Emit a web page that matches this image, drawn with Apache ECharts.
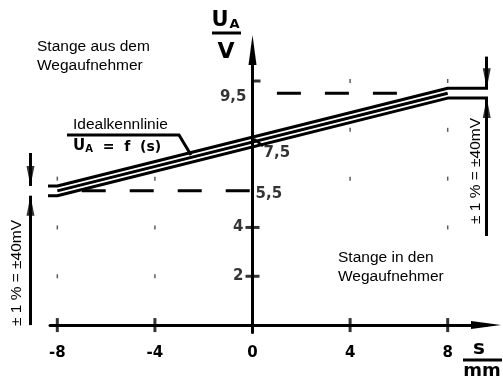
<!DOCTYPE html>
<html>
<head>
<meta charset="utf-8">
<script src="https://cdn.jsdelivr.net/npm/echarts@6.0.0/dist/echarts.min.js"></script>
<style>html,body{margin:0;padding:0;background:#fff}#kennlinie{width:503px;height:379px}</style>
</head>
<body>
<div id="kennlinie"></div>
<script>
var chart = echarts.init(document.getElementById('kennlinie'));

var fett = 'DejaVu Sans';
var duenn = 'Liberation Sans';

// Achsen
var xTickValues = [-8, -4, 0, 4, 8];
var yTickValues = [2, 4];
var yTopTick = [10];
var yLabelsLeft = [2, 4, 9.5];
var yLabelsRight = [5.5, 7.5];

// Rasterpunkte
var rasterS = [-8, -8, -8, -4, -4, -4, 4, 4, 4, 8, 8, 8, 8];
var rasterU = [2, 4, 6, 2, 4, 6, 6, 8, 10, 4, 6, 8, 10];

// Kennlinie mit Toleranzband
var bandS = [-9.5, -8, 8, 10];
var bandOben = [5.7, 5.7, 9.7, 9.7];
var bandUnten = [5.3, 5.3, 9.3, 9.3];
var idealS = [-8, 8];
var idealU = [5.5, 9.5];

// gestrichelte Hilfslinien
var hilf1S = [-7, 0], hilf1U = [5.5, 5.5];
var hilf2S = [1, 6], hilf2U = [9.5, 9.5];

// Toleranzpfeile
var pfeilS = [-9.1, -9.1, 9.6, 9.6];
var pfeilVon = [7.05, 0, 11.0, 3.65];
var pfeilBis = [5.7, 5.3, 9.7, 9.3];

function pairs(xs, ys) {
    return xs.map(function (x, i) { return [x, ys[i]]; });
}

function linie(xs, ys, dash) {
    return {
        type: 'line',
        data: pairs(xs, ys),
        symbol: 'none',
        clip: false,
        silent: true,
        lineStyle: { color: '#000', width: 3, type: dash || 'solid' },
        z: 3
    };
}

function komma(v) {
    return String(v).replace('.', ',');
}

var fettLabel = { fontFamily: fett, fontWeight: 'bold', fontSize: 15, color: '#000' };

var option = {
    animation: false,
    backgroundColor: '#fff',
    grid: { left: 50, right: 17, top: 50, bottom: 46.6 },
    xAxis: {
        type: 'value',
        min: -8.3,
        max: 9.57,
        axisLine: {
            onZero: true,
            symbol: ['none', 'triangle'],
            symbolSize: [8, 30],
            lineStyle: { color: '#000', width: 3 }
        },
        axisTick: { show: false },
        splitLine: { show: false },
        axisLabel: Object.assign({ customValues: xTickValues, margin: 13 }, fettLabel)
    },
    yAxis: {
        type: 'value',
        min: -0.3,
        max: 11.27,
        axisLine: {
            onZero: true,
            symbol: ['none', 'triangle'],
            symbolSize: [8, 30],
            lineStyle: { color: '#000', width: 3 }
        },
        axisTick: { show: false },
        splitLine: { show: false },
        axisLabel: { show: false }
    },
    series: [
        {
            type: 'scatter',
            data: pairs(rasterS, rasterU),
            symbol: 'rect',
            symbolSize: [1.5, 4],
            itemStyle: { color: '#333' },
            silent: true
        },
        linie(hilf1S, hilf1U, [24, 24]),
        linie(hilf2S, hilf2U, [24, 24]),
        linie(bandS, bandOben),
        linie(idealS, idealU),
        linie(bandS, bandUnten),
        {
            type: 'lines',
            coordinateSystem: 'cartesian2d',
            clip: false,
            silent: true,
            data: pfeilS.map(function (s, i) {
                return { coords: [[s, pfeilVon[i]], [s, pfeilBis[i]]] };
            }),
            lineStyle: { color: '#000', width: 3, opacity: 1, curveness: 0 }
        },
        {
            // Pfeilspitzen
            type: 'scatter',
            clip: false,
            silent: true,
            symbolSize: [8, 20],
            itemStyle: { color: '#000' },
            z: 5,
            data: pfeilS.map(function (s, i) {
                var runter = pfeilVon[i] > pfeilBis[i];
                return {
                    value: [s, pfeilBis[i]],
                    symbol: runter ? 'path://M0,0L8,0L4,20Z' : 'path://M4,0L8,20L0,20Z',
                    symbolOffset: [0, runter ? -10 : 10]
                };
            })
        },
        {
            // Teilstriche quer durch die Achsen
            type: 'scatter',
            clip: false,
            silent: true,
            symbol: 'rect',
            itemStyle: { color: '#000' },
            data: xTickValues.map(function (v) {
                return { value: [v, 0], symbolSize: [3, 14] };
            }).concat(yTickValues.map(function (v) {
                return { value: [0, v], symbolSize: [14, 3] };
            })).concat(yTopTick.map(function (v) {
                return { value: [0, v], symbolSize: [8, 3], symbolOffset: [4, 0] };
            }))
        },
        {
            type: 'scatter',
            silent: true,
            symbolSize: 0,
            data: yLabelsLeft.map(function (v) {
                return { value: [0, v], label: { offset: v === 9.5 ? [3, 4] : [0, 0] } };
            }),
            label: Object.assign({
                show: true,
                position: 'left',
                distance: 9,
                formatter: function (p) { return komma(p.value[1]); }
            }, fettLabel)
        },
        {
            type: 'scatter',
            silent: true,
            symbolSize: 0,
            data: yLabelsRight.map(function (v, i) {
                return { value: [0, v], label: { offset: i === 0 ? [0, 3] : [8, 11] } };
            }),
            label: Object.assign({
                show: true,
                position: 'right',
                distance: 3,
                formatter: function (p) { return komma(p.value[1]); }
            }, fettLabel)
        }
    ],
    graphic: [
        { type: 'text', x: 37, y: 37, style: { text: 'Stange aus dem\nWegaufnehmer', fontFamily: duenn, fontSize: 15.5, lineHeight: 19, fill: '#000', verticalAlign: 'top' } },
        { type: 'text', x: 338, y: 248, style: { text: 'Stange in den\nWegaufnehmer', fontFamily: duenn, fontSize: 15.5, lineHeight: 19, fill: '#000', verticalAlign: 'top' } },
        { type: 'text', x: 73, y: 125, style: { text: 'Idealkennlinie', fontFamily: duenn, fontSize: 15.5, fill: '#000', verticalAlign: 'middle' } },
        { type: 'polyline', shape: { points: [[67, 135], [179, 135], [191, 155]] }, style: { stroke: '#000', lineWidth: 3, fill: null } },
        {
            type: 'text', x: 73, y: 145,
            style: {
                text: '{u|U}{a|A}{t|  =  f  (s)}',
                verticalAlign: 'middle',
                rich: {
                    u: { fontFamily: fett, fontWeight: 'bold', fontSize: 15, fill: '#000', lineHeight: 18, verticalAlign: 'bottom' },
                    a: { fontFamily: fett, fontWeight: 'bold', fontSize: 10, fill: '#000', lineHeight: 13, verticalAlign: 'bottom' },
                    t: { fontFamily: fett, fontWeight: 'bold', fontSize: 14, fill: '#000', lineHeight: 18, verticalAlign: 'bottom' }
                }
            }
        },
        { type: 'line', shape: { x1: 254, y1: 139, x2: 263, y2: 146 }, style: { stroke: '#000', lineWidth: 2.5 } },
        { type: 'text', x: 16.5, y: 273, rotation: Math.PI / 2, style: { text: '± 1 % = ±40mV', fontFamily: duenn, fontSize: 15.5, fill: '#000', align: 'center', verticalAlign: 'middle' } },
        { type: 'text', x: 476, y: 171, rotation: Math.PI / 2, style: { text: '± 1 % = ±40mV', fontFamily: duenn, fontSize: 15.5, fill: '#000', align: 'center', verticalAlign: 'middle' } },
        // Achsentitel U_A / V
        { type: 'text', x: 220, y: 21, style: { text: 'U', fontFamily: fett, fontWeight: 'bold', fontSize: 21, fill: '#000', align: 'center', verticalAlign: 'middle' } },
        { type: 'text', x: 234.5, y: 25, style: { text: 'A', fontFamily: fett, fontWeight: 'bold', fontSize: 13, fill: '#000', align: 'center', verticalAlign: 'middle' } },
        { type: 'line', shape: { x1: 212, y1: 33, x2: 241, y2: 33 }, style: { stroke: '#000', lineWidth: 3 } },
        { type: 'text', x: 226, y: 52, style: { text: 'V', fontFamily: fett, fontWeight: 'bold', fontSize: 22, fill: '#000', align: 'center', verticalAlign: 'middle' } },
        // Achsentitel s / mm
        { type: 'text', x: 479, y: 349, style: { text: 's', fontFamily: fett, fontWeight: 'bold', fontSize: 20, fill: '#000', align: 'center', verticalAlign: 'middle' } },
        { type: 'line', shape: { x1: 463, y1: 360, x2: 502, y2: 360 }, style: { stroke: '#000', lineWidth: 3 } },
        { type: 'text', x: 482, y: 371, style: { text: 'mm', fontFamily: fett, fontWeight: 'bold', fontSize: 18, fill: '#000', align: 'center', verticalAlign: 'middle' } }
    ]
};

chart.setOption(option);
</script>
</body>
</html>
